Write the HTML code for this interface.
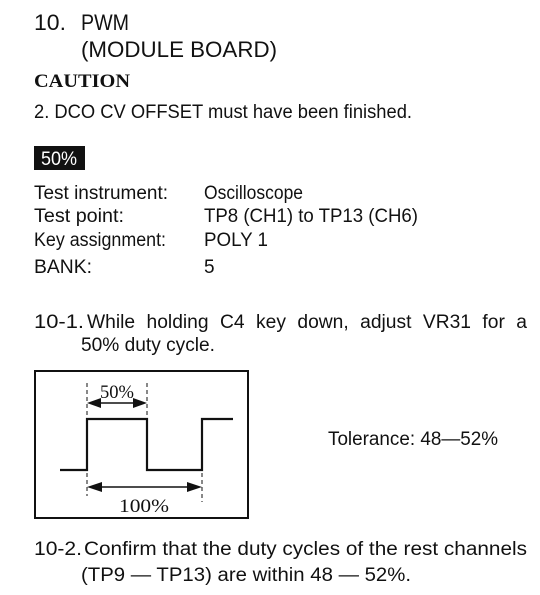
<!DOCTYPE html>
<html><head><meta charset="utf-8"><style>
html,body{margin:0;padding:0;background:#fff;}
svg{display:block;}
text{font-family:"Liberation Sans",sans-serif;fill:#111;}
</style></head><body>
<svg width="540" height="595" viewBox="0 0 540 595" xmlns="http://www.w3.org/2000/svg">
<g font-size="22" lengthAdjust="spacingAndGlyphs">
<text x="34" y="30" textLength="32" lengthAdjust="spacingAndGlyphs">10.</text>
<text x="81" y="30" textLength="48" lengthAdjust="spacingAndGlyphs">PWM</text>
<text x="81" y="57" textLength="196" lengthAdjust="spacingAndGlyphs">(MODULE BOARD)</text>
</g>
<text x="34" y="87" font-size="19" font-weight="bold" style="font-family:'Liberation Serif',serif" textLength="96" lengthAdjust="spacingAndGlyphs">CAUTION</text>
<g font-size="19">
<text x="34" y="118" textLength="378" lengthAdjust="spacingAndGlyphs">2. DCO CV OFFSET must have been finished.</text>
<rect x="34" y="146" width="51" height="24" fill="#111"/>
<text x="41" y="165" style="fill:#fff" textLength="36" lengthAdjust="spacingAndGlyphs">50%</text>
<text x="34" y="199" textLength="134" lengthAdjust="spacingAndGlyphs">Test instrument:</text>
<text x="204" y="199" textLength="99" lengthAdjust="spacingAndGlyphs">Oscilloscope</text>
<text x="34" y="222" textLength="90" lengthAdjust="spacingAndGlyphs">Test point:</text>
<text x="204" y="222" textLength="214" lengthAdjust="spacingAndGlyphs">TP8 (CH1) to TP13 (CH6)</text>
<text x="34" y="246" textLength="132" lengthAdjust="spacingAndGlyphs">Key assignment:</text>
<text x="204" y="246" textLength="64" lengthAdjust="spacingAndGlyphs">POLY 1</text>
<text x="34" y="273" textLength="58" lengthAdjust="spacingAndGlyphs">BANK:</text>
<text x="204" y="273">5</text>
<text x="34" y="328" textLength="50" lengthAdjust="spacingAndGlyphs">10-1.</text>
<text x="87" y="328" textLength="440" lengthAdjust="spacingAndGlyphs" style="word-spacing:6px">While holding C4 key down, adjust VR31 for a</text>
<text x="81" y="351" textLength="134" lengthAdjust="spacingAndGlyphs">50% duty cycle.</text>
<text x="328" y="445" textLength="170" lengthAdjust="spacingAndGlyphs">Tolerance: 48—52%</text>
<text x="34" y="555" textLength="48" lengthAdjust="spacingAndGlyphs">10-2.</text>
<text x="84" y="555" textLength="443" lengthAdjust="spacingAndGlyphs">Confirm that the duty cycles of the rest channels</text>
<text x="81" y="581" textLength="330" lengthAdjust="spacingAndGlyphs">(TP9 — TP13) are within 48 — 52%.</text>
</g>
<rect x="35" y="371" width="213" height="147" fill="none" stroke="#111" stroke-width="2"/>
<polyline points="60,470 87,470 87,419 147,419 147,470 202,470 202,419 233,419" fill="none" stroke="#111" stroke-width="2.2"/>
<g stroke="#111" stroke-width="1" stroke-dasharray="4,3">
<line x1="87" y1="383" x2="87" y2="416"/><line x1="147" y1="383" x2="147" y2="416"/>
<line x1="87" y1="473" x2="87" y2="496"/><line x1="202" y1="473" x2="202" y2="502"/>
</g>
<line x1="95" y1="403" x2="139" y2="403" stroke="#111" stroke-width="1.5"/>
<polygon points="87,403 101,398 101,408" fill="#111"/><polygon points="147,403 133,398 133,408" fill="#111"/>
<line x1="95" y1="487" x2="194" y2="487" stroke="#111" stroke-width="1.5"/>
<polygon points="87,487 102,482 102,492" fill="#111"/><polygon points="202,487 187,482 187,492" fill="#111"/>
<text x="100" y="398" font-size="19" style="font-family:'Liberation Serif',serif" textLength="34" lengthAdjust="spacingAndGlyphs">50%</text>
<text x="119" y="512" font-size="19" style="font-family:'Liberation Serif',serif" textLength="50" lengthAdjust="spacingAndGlyphs">100%</text>
</svg>
</body></html>
